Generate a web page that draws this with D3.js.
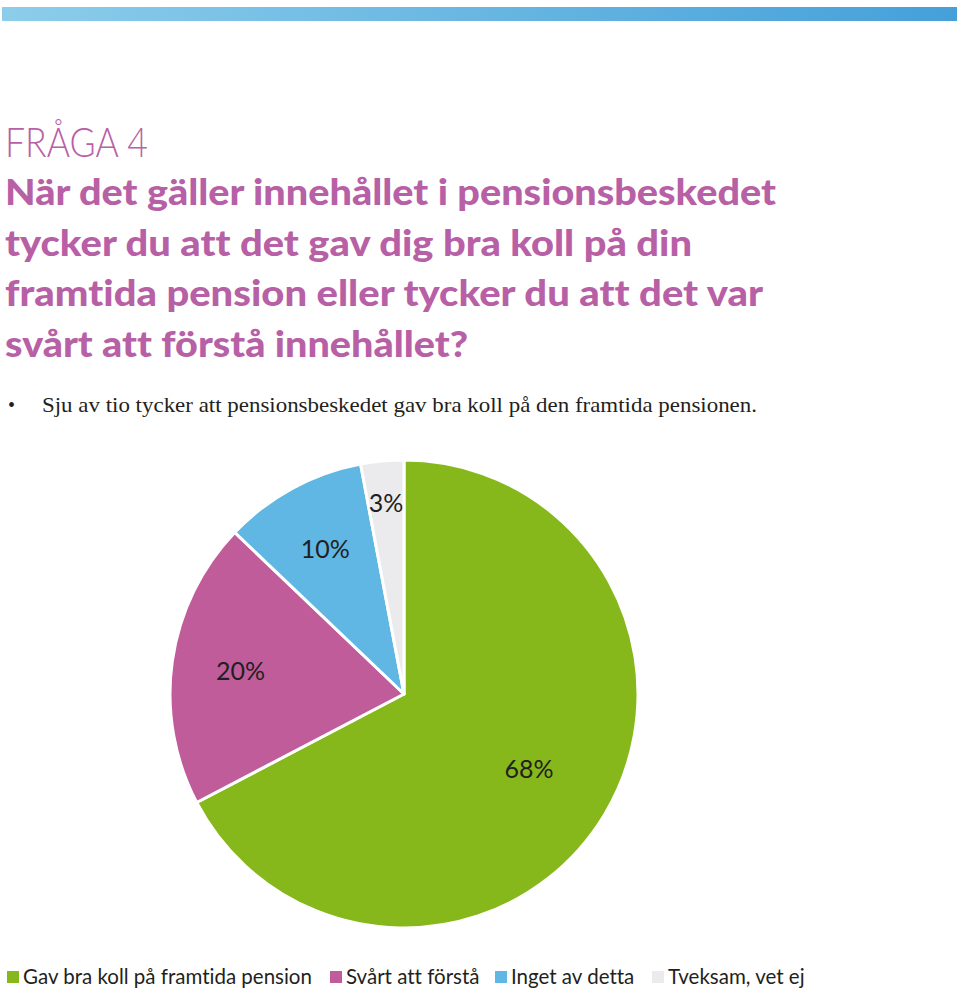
<!DOCTYPE html>
<html><head><meta charset="utf-8">
<script src="https://cdn.jsdelivr.net/npm/d3@7"></script>
<style>body{margin:0;background:#fff} text{font-variant-ligatures:none;font-feature-settings:"liga" 0}</style>
</head><body>
<svg id="c" width="960" height="992"></svg>
<script>
const categories = ["Gav bra koll på framtida pension","Svårt att förstå","Inget av detta","Tveksam, vet ej"];
const values = [68, 20, 10, 3];
const colors = ["#86b81b","#c05c9a","#60b7e3","#ebebed"];
const titleLines = ["När det gäller innehållet i pensionsbeskedet","tycker du att det gav dig bra koll på din","framtida pension eller tycker du att det var","svårt att förstå innehållet?"];
const titleWidths = [771, 687, 758, 463];
const heading = "FRÅGA 4";
const bullet = "Sju av tio tycker att pensionsbeskedet gav bra koll på den framtida pensionen.";

const svg = d3.select("#c");
const defs = svg.append("defs");
const g = defs.append("linearGradient").attr("id","bar");
g.append("stop").attr("offset","0").attr("stop-color","#8ccdea");
g.append("stop").attr("offset","1").attr("stop-color","#45a0d9");
svg.append("rect").attr("x",2).attr("y",7).attr("width",955).attr("height",14).attr("fill","url(#bar)");

const purple = "#b860a6";
svg.append("text").attr("x",5).attr("y",157).attr("fill",purple)
  .attr("font-family","Lato").attr("font-weight",300).attr("font-size",41)
  .attr("textLength",143).attr("lengthAdjust","spacingAndGlyphs").text(heading);
titleLines.forEach((t,i)=>{
  svg.append("text").attr("x",5).attr("y",205+i*50.7).attr("fill",purple)
    .attr("font-family","Lato").attr("font-weight",900).attr("font-size",36)
    .attr("textLength",titleWidths[i]).attr("lengthAdjust","spacingAndGlyphs").text(t);
});
svg.append("text").attr("x",8).attr("y",412).attr("fill","#231f20")
  .attr("font-family","Liberation Serif").attr("font-size",20).text("•");
svg.append("text").attr("x",42).attr("y",412).attr("fill","#231f20")
  .attr("font-family","Liberation Serif").attr("font-size",21)
  .attr("textLength",715).attr("lengthAdjust","spacingAndGlyphs").text(bullet);

const cx=404, cy=694, R=234;
const pie = d3.pie().sort(null).value(d=>d);
const arcs = pie(values);
const arc = d3.arc().innerRadius(0).outerRadius(R);
const pg = svg.append("g").attr("transform",`translate(${cx},${cy})`);
pg.selectAll("path").data(arcs).join("path")
  .attr("d",arc).attr("fill",(d,i)=>colors[i])
  .attr("stroke","#fff").attr("stroke-width",3).attr("stroke-linejoin","round");
pg.selectAll("text.lab").data(arcs).join("text").attr("class","lab")
  .attr("transform",d=>{
    const r = d.value>50 ? 146 : (d.value<5 ? 192 : 165);
    const a = (d.startAngle+d.endAngle)/2;
    return `translate(${Math.sin(a)*r},${-Math.cos(a)*r})`;
  })
  .attr("text-anchor","middle").attr("dy","0.35em")
  .attr("font-family","Lato").attr("font-size",25).attr("fill","#231f20")
  .text(d=>d.value+"%");

const lg = svg.append("g").attr("font-family","Lato").attr("font-size",20.5).attr("fill","#231f20");
const lx=[7,330,495,652];
categories.forEach((c,i)=>{
  lg.append("rect").attr("x",lx[i]).attr("y",971).attr("width",12).attr("height",12).attr("fill",colors[i]);
  lg.append("text").attr("x",lx[i]+16).attr("y",984).text(c);
});
</script>
</body></html>
